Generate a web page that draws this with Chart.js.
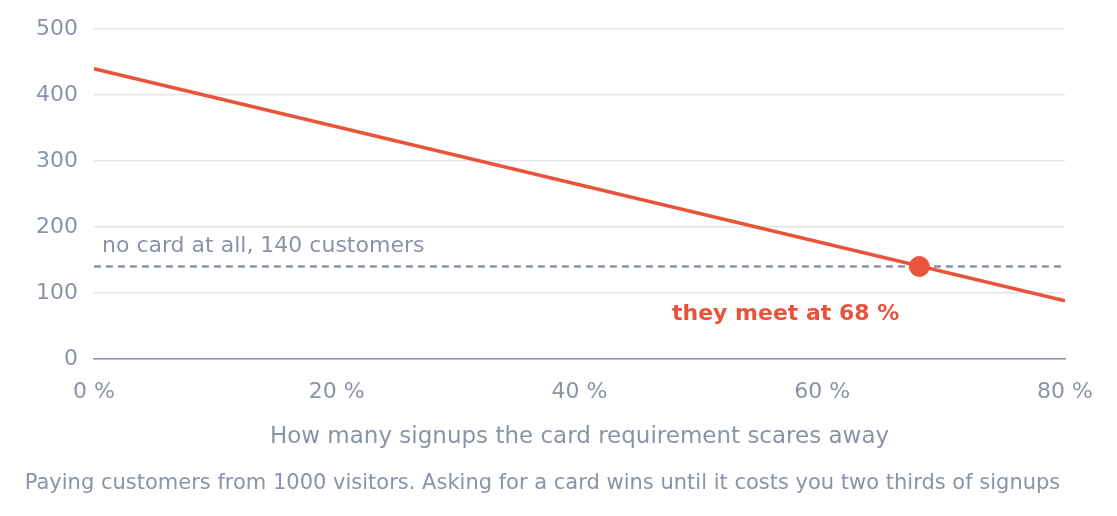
<!DOCTYPE html>
<html>
<head>
<meta charset="utf-8">
<script src="https://cdn.jsdelivr.net/npm/chart.js@4"></script>
<style>
  body { margin: 0; background: #fff; }
  #wrap { width: 1117px; height: 516px; }
</style>
</head>
<body>
<div id="wrap"><canvas id="c"></canvas></div>
<script>
// data
const shareScaredAway = [0, 80];
const customersWithCard = [440, 88];
const noCardCustomers = 140;
const meetAt = 68;
const xTicks = [0, 20, 40, 60, 80];

const grey = "#8a94a6";
const red = "#e8533a";
Chart.defaults.font.family = "DejaVu Sans";

// draws the two text notes next to the lines
const notes = {
    id: "notes",
    afterDatasetsDraw(chart) {
        const { ctx, scales: { x, y } } = chart;
        ctx.save();
        ctx.font = "22px DejaVu Sans";
        ctx.fillStyle = grey;
        ctx.textBaseline = "alphabetic";
        ctx.fillText(`no card at all, ${noCardCustomers} customers`, x.getPixelForValue(0) + 8, y.getPixelForValue(noCardCustomers) - 15);
        ctx.font = "bold 22px DejaVu Sans";
        ctx.fillStyle = red;
        ctx.textAlign = "right";
        ctx.fillText(`they meet at ${meetAt} %`, x.getPixelForValue(meetAt) - 20, y.getPixelForValue(noCardCustomers) + 53);
        ctx.restore();
    }
};

new Chart(document.getElementById("c"), {
    type: "scatter",
    data: {
        datasets: [
            {
                type: "line",
                data: shareScaredAway.map((v, i) => ({ x: v, y: customersWithCard[i] })),
                borderColor: red, borderWidth: 3.5, pointRadius: 0, order: 2
            },
            {
                type: "line",
                data: [{ x: 0, y: noCardCustomers }, { x: 80, y: noCardCustomers }],
                borderColor: grey, borderWidth: 2.5, borderDash: [7, 5], pointRadius: 0, order: 3
            },
            {
                data: [{ x: meetAt, y: noCardCustomers }],
                backgroundColor: red, borderColor: red, pointRadius: 10, order: 1
            }
        ]
    },
    options: {
        responsive: true,
        maintainAspectRatio: false,
        animation: false,
        layout: { padding: { left: 20, right: 52, top: 29, bottom: 20 } },
        plugins: {
            legend: { display: false },
            tooltip: { enabled: false },
            title: {
                display: true, position: "bottom",
                text: "Paying customers from 1000 visitors. Asking for a card wins until it costs you two thirds of signups",
                color: grey, font: { size: 21, weight: "normal" }, padding: { top: 16, bottom: 0 }
            }
        },
        scales: {
            x: {
                type: "linear", min: 0, max: 80,
                afterBuildTicks: s => { s.ticks = xTicks.map(v => ({ value: v })); },
                ticks: { callback: v => `${v} %`, color: grey, font: { size: 22 }, padding: 12 },
                grid: { display: false },
                border: { color: grey, width: 1.5 },
                title: { display: true, text: "How many signups the card requirement scares away", color: grey, font: { size: 23 }, padding: { top: 6 } }
            },
            y: {
                min: 0, max: 500,
                ticks: { stepSize: 100, color: grey, font: { size: 22 }, padding: 16 },
                grid: { color: "#e3e5e8", lineWidth: 1.5, drawTicks: false },
                border: { display: false }
            }
        }
    },
    plugins: [notes]
});
</script>
</body>
</html>
